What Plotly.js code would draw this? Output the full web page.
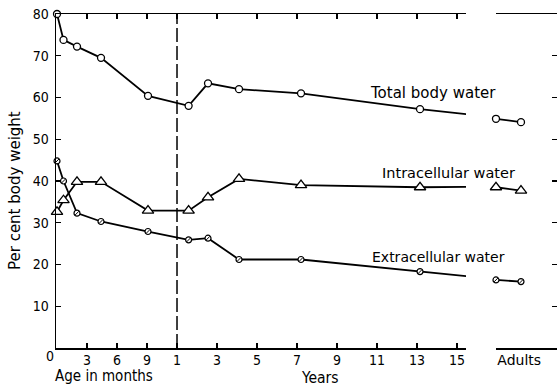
<!DOCTYPE html>
<html><head><meta charset="utf-8">
<script src="https://cdn.plot.ly/plotly-3.0.1.min.js"></script>
<style>html,body{margin:0;padding:0;background:#fff}#chart{width:557px;height:386px}</style>
</head><body><div id="chart"></div>
<script>
// Ages: first year in months, then in years, then two adult groups
const monthAges = [0, 0.65, 2.0, 4.4, 9.1];
const yearAges = [1.58, 2.55, 4.1, 7.2, 13.15, 15.47];
const adultPos = [0, 1];

const totalMonths = [80, 73.8, 72.2, 69.5, 60.4];
const totalYears = [58.0, 63.4, 62.0, 61.0, 57.2, 56.0];
const totalAdults = [54.9, 54.1];

const intraMonths = [32.6, 35.4, 39.8, 39.8, 32.9];
const intraYears = [32.9, 36.1, 40.5, 39.0, 38.5, 38.6];
const intraAdults = [38.5, 37.7];

const extraMonths = [44.8, 40.0, 32.3, 30.3, 27.9];
const extraYears = [25.9, 26.3, 21.2, 21.2, 18.3, 17.2];
const extraAdults = [16.3, 15.9];

const monthTicks = [3, 6, 9];
const yearTicks = [1, 3, 5, 7, 9, 11, 13, 15];
const yTicks = [10, 20, 30, 40, 50, 60, 70, 80];
const rightTicks = [10, 20, 30, 40, 50, 60, 70];

// piecewise age scale: 1 unit per month in first year, 2 units per year afterwards
const monthPos = m => m;
const yearPos = y => 12 + 2 * (y - 1);
const xMain = monthAges.map(monthPos).concat(yearAges.map(yearPos));

const K = 'black';
const COND = '"DejaVu Sans Condensed", "DejaVu Sans", sans-serif';
const REG = '"DejaVu Sans", sans-serif';
const lineStyle = {color: K, width: 1.8};
const circ = {symbol: 'circle', size: 7, color: 'white', line: {color: K, width: 1.3}};
const tri = {symbol: 'triangle-up', size: 10, color: 'white', line: {color: K, width: 1.3}};
const small = {symbol: 'circle', size: 6, color: 'white', line: {color: K, width: 1.2}};
const slash = {symbol: 'line-ne', size: 4, color: K, line: {color: K, width: 1}};

function tr(x, y, marker, xa, ya, mode) {
  return {x: x, y: y, mode: mode || 'lines+markers', line: lineStyle, marker: marker,
          xaxis: xa, yaxis: ya, cliponaxis: false, hoverinfo: 'skip', showlegend: false};
}

const data = [
  tr(xMain, totalMonths.concat(totalYears), circ, 'x', 'y'),
  tr(xMain, intraMonths.concat(intraYears), tri, 'x', 'y'),
  tr(xMain, extraMonths.concat(extraYears), small, 'x', 'y'),
  tr(xMain, extraMonths.concat(extraYears), slash, 'x', 'y', 'markers'),
  tr(adultPos, totalAdults, circ, 'x2', 'y2'),
  tr(adultPos, intraAdults, tri, 'x2', 'y2'),
  tr(adultPos, extraAdults, small, 'x2', 'y2'),
  tr(adultPos, extraAdults, slash, 'x2', 'y2', 'markers')
];

const mainEnd = 40.85;
const axCommon = {showgrid: false, zeroline: false, showline: true, linecolor: K, linewidth: 1.5,
  ticks: 'inside', ticklen: 5, tickwidth: 1.2, tickcolor: K, fixedrange: true,
  tickfont: {family: COND, size: 14, color: K}};

function note(text, x, y, size, family, xanchor, angle) {
  return {text: text, xref: 'paper', yref: 'paper', x: x, y: y, showarrow: false, textangle: angle || 0,
          xanchor: xanchor || 'center', yanchor: 'middle', font: {family: family || COND, size: size || 14, color: K}};
}

const layout = {
  width: 557, height: 386,
  margin: {l: 56, r: 0, t: 14, b: 38},
  paper_bgcolor: 'white', plot_bgcolor: 'white', showlegend: false,
  font: {family: COND, size: 14, color: K},
  xaxis: Object.assign({}, axCommon, {
    domain: [0, 0.8184], range: [-0.1, 40.9], anchor: 'y', mirror: 'ticks',
    tickvals: monthTicks.map(monthPos).concat(yearTicks.map(yearPos), [mainEnd]),
    ticktext: monthTicks.map(String).concat(yearTicks.map(String), ['']),
    tickangle: 0, ticklabelstandoff: -1
  }),
  xaxis2: Object.assign({}, axCommon, {
    domain: [0.8782, 1], range: [0, 2.44], anchor: 'y2', mirror: 'ticks',
    tickvals: [0], ticktext: ['Adults'], ticklabelposition: 'outside right', tickangle: 0,
    ticklabelstandoff: -1, tickfont: {family: REG, size: 14, color: K}
  }),
  yaxis: Object.assign({}, axCommon, {
    range: [0, 80], anchor: 'x', tickvals: yTicks, ticktext: yTicks.map(String),
    ticklabelstandoff: 3
  }),
  yaxis2: Object.assign({}, axCommon, {
    range: [0, 80], anchor: 'x2', overlaying: 'y', side: 'right', showline: false,
    tickvals: rightTicks, showticklabels: false
  }),
  shapes: [
    {type: 'line', xref: 'x', yref: 'paper', x0: monthPos(12), x1: monthPos(12), y0: 0, y1: 1,
     line: {color: K, width: 1.5, dash: '14px,4px'}}
  ],
  annotations: [
    note('Per cent body weight', -0.0818, 0.47, 15, REG, 'center', -90),
    note('0', -0.012, -0.024, 14),
    note('Age in months', 0.0958, -0.084, 15),
    note('Years', 0.527, -0.09, 15.5),
    note('Total body water', 0.6228, 0.7635, 15, REG, 'left'),
    note('Intracellular water', 0.6467, 0.5254, 14.5, REG, 'left'),
    note('Extracellular water', 0.6267, 0.2725, 14, REG, 'left')
  ]
};

Plotly.newPlot('chart', data, layout, {displayModeBar: false, staticPlot: true});
</script>
</body></html>
